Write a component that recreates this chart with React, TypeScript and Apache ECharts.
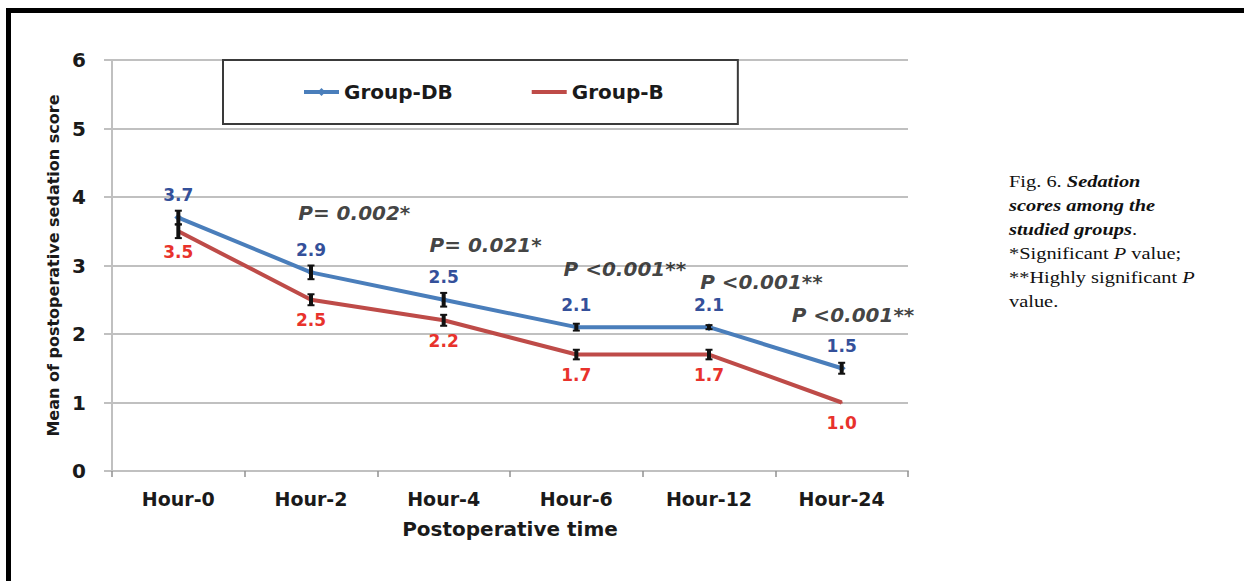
import React, { useEffect, useRef } from "react";
import * as echarts from "echarts";

// Postoperative sedation scores, two study groups
const categories = ["Hour-0", "Hour-2", "Hour-4", "Hour-6", "Hour-12", "Hour-24"];
const groupDB = [3.7, 2.9, 2.5, 2.1, 2.1, 1.5];
const groupB = [3.5, 2.5, 2.2, 1.7, 1.7, 1.0];
// half-length of the error bars drawn at each time point
const errDB = [0.1, 0.1, 0.1, 0.05, 0.03, 0.08];
const errB = [0.1, 0.08, 0.08, 0.07, 0.07, 0];
const yTicks = [0, 1, 2, 3, 4, 5, 6];

// P-value annotations: [x position on a continuous category scale, y value, text]
const pNotes: [number, number, string][] = [
  [0.9, 3.77, "P= 0.002*"],
  [1.89, 3.3, "P= 0.021*"],
  [2.9, 2.95, "P <0.001**"],
  [3.93, 2.76, "P <0.001**"],
  [4.62, 2.28, "P <0.001**"],
];

const SANS = "DejaVu Sans";
const SERIF = "Liberation Serif";
const BLUE_LINE = "#4a7ebb";
const RED_LINE = "#be4b48";
const BLUE_TEXT = "#34509a";
const RED_TEXT = "#e8322c";
const GRID = "#c0c0c0";

function errorBars(values: number[], errs: number[]) {
  return values.map((v, i) => [i, v, errs[i]]);
}

function renderError(params: any, api: any) {
  const x = api.value(0);
  const v = api.value(1);
  const e = api.value(2);
  if (!(e > 0)) return null;
  const top = api.coord([x, v + e]);
  const bot = api.coord([x, v - e]);
  const cx = top[0];
  const style = { stroke: "#111111", lineWidth: 4 };
  const cap = { stroke: "#111111", lineWidth: 2 };
  return {
    type: "group",
    children: [
      { type: "line", shape: { x1: cx, y1: top[1], x2: cx, y2: bot[1] }, style },
      { type: "line", shape: { x1: cx - 3.5, y1: top[1], x2: cx + 3.5, y2: top[1] }, style: cap },
      { type: "line", shape: { x1: cx - 3.5, y1: bot[1], x2: cx + 3.5, y2: bot[1] }, style: cap },
    ],
  };
}

const captionLines: string[] = [
  "Fig. 6. {bi|Sedation}",
  "{bi|scores among the}",
  "{bi|studied groups}.",
  "*Significant {i|P} value;",
  "**Highly significant {i|P}",
  "value.",
];

export default function App() {
  const ref = useRef<HTMLDivElement>(null);

  useEffect(() => {
    if (!ref.current) return;
    const chart = echarts.init(ref.current, null, { renderer: "svg" });

    const caption = captionLines.map((t, i) => ({
      type: "text",
      x: 1009,
      y: 181 + i * 24,
      scaleX: 1.2,
      style: {
        text: t,
        fontFamily: SERIF,
        fontSize: 17,
        fill: "#111111",
        verticalAlign: "middle",
        align: "left",
        rich: {
          bi: { fontFamily: SERIF, fontSize: 17, fontStyle: "italic", fontWeight: "bold", fill: "#111111" },
          i: { fontFamily: SERIF, fontSize: 17, fontStyle: "italic", fill: "#111111" },
        },
      },
    }));

    chart.setOption({
      animation: false,
      backgroundColor: "#ffffff",
      grid: { left: 112, right: 336, top: 60, bottom: 110, containLabel: false },
      legend: {
        data: [
          { name: "Group-DB", lineStyle: { width: 4 } },
          { name: "Group-B", itemStyle: { opacity: 0 }, lineStyle: { width: 4 } },
        ],
        left: 223,
        top: 60,
        padding: [22, 74, 22, 79],
        itemGap: 77,
        itemWidth: 35,
        itemHeight: 10,
        backgroundColor: "#ffffff",
        borderColor: "#3a3a3a",
        borderWidth: 2,
        textStyle: { fontFamily: SANS, fontWeight: "bold", fontSize: 20, color: "#1a1a1a" },
      },
      xAxis: [
        {
          type: "category",
          data: categories,
          boundaryGap: true,
          name: "Postoperative time",
          nameLocation: "middle",
          nameGap: 48,
          nameTextStyle: { fontFamily: SANS, fontWeight: "bold", fontSize: 20, color: "#1a1a1a" },
          axisLine: { lineStyle: { color: GRID, width: 2 } },
          axisTick: { show: true, length: 6, lineStyle: { color: "#909090", width: 1.5 } },
          axisLabel: { fontFamily: SANS, fontWeight: "bold", fontSize: 19, color: "#1a1a1a", margin: 18 },
          splitLine: { show: false },
        },
        {
          type: "value",
          min: -0.5,
          max: 5.5,
          show: false,
        },
      ],
      yAxis: {
        type: "value",
        min: yTicks[0],
        max: yTicks[yTicks.length - 1],
        interval: 1,
        name: "Mean of postoperative sedation score",
        nameLocation: "middle",
        nameGap: 50,
        nameTextStyle: { fontFamily: SANS, fontWeight: "bold", fontSize: 16, color: "#1a1a1a" },
        axisLine: { show: true, onZero: false, lineStyle: { color: GRID, width: 2 } },
        axisTick: { show: true, length: 8, lineStyle: { color: GRID, width: 2 } },
        axisLabel: { fontFamily: SANS, fontWeight: "bold", fontSize: 20, color: "#1a1a1a", margin: 26 },
        splitLine: { show: true, lineStyle: { color: GRID, width: 2 } },
      },
      series: [
        {
          name: "Group-DB",
          type: "line",
          data: groupDB,
          symbol: "diamond",
          symbolSize: 8,
          itemStyle: { color: BLUE_LINE },
          lineStyle: { color: BLUE_LINE, width: 4 },
          z: 3,
          label: {
            show: true,
            position: "top",
            distance: 10,
            fontFamily: SANS,
            fontWeight: "bold",
            fontSize: 17,
            color: BLUE_TEXT,
            formatter: (p: any) => Number(p.value).toFixed(1),
          },
        },
        {
          name: "Group-B",
          type: "line",
          data: groupB,
          symbol: "circle",
          symbolSize: 2,
          itemStyle: { color: RED_LINE },
          lineStyle: { color: RED_LINE, width: 4 },
          z: 2,
          label: {
            show: true,
            position: "bottom",
            distance: 11,
            fontFamily: SANS,
            fontWeight: "bold",
            fontSize: 17,
            color: RED_TEXT,
            formatter: (p: any) => Number(p.value).toFixed(1),
          },
        },
        {
          name: "err-DB",
          type: "custom",
          data: errorBars(groupDB, errDB),
          renderItem: renderError,
          z: 5,
          silent: true,
        },
        {
          name: "err-B",
          type: "custom",
          data: errorBars(groupB, errB),
          renderItem: renderError,
          z: 5,
          silent: true,
        },
        {
          name: "p-values",
          type: "scatter",
          xAxisIndex: 1,
          data: pNotes.map((n) => [n[0], n[1], n[2]]),
          symbolSize: 1,
          itemStyle: { color: "rgba(0,0,0,0)" },
          silent: true,
          z: 6,
          label: {
            show: true,
            position: "right",
            distance: 0,
            fontFamily: SANS,
            fontWeight: "bold",
            fontStyle: "italic",
            fontSize: 20,
            color: "#111111",
            formatter: (p: any) => p.value[2],
          },
        },
      ],
      graphic: [
        { type: "rect", shape: { x: 6, y: 8, width: 1238, height: 5 }, style: { fill: "#000000" } },
        { type: "rect", shape: { x: 6, y: 8, width: 5, height: 573 }, style: { fill: "#000000" } },
        ...caption,
      ],
    });

    return () => chart.dispose();
  }, []);

  return (
    <div
      ref={ref}
      style={{ position: "fixed", left: 0, top: 0, width: 1244, height: 581, background: "#ffffff" }}
    />
  );
}
